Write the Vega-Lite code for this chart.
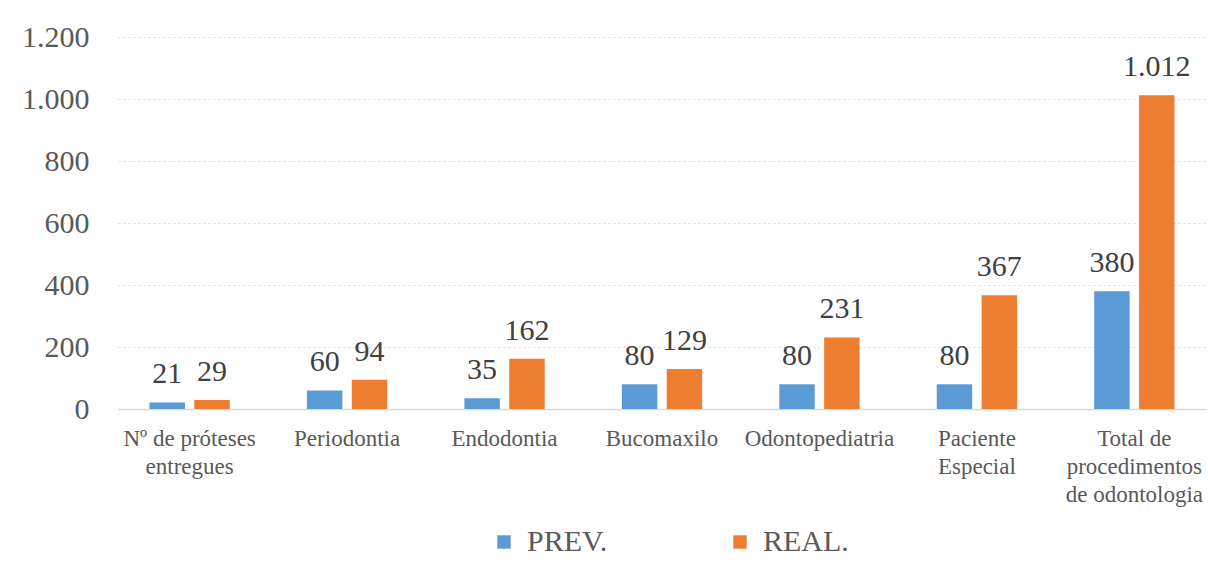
{
  "$schema": "https://vega.github.io/schema/vega-lite/v6.json",
  "width": 1088,
  "height": 372,
  "padding": {"left": 21, "top": 22, "right": 0, "bottom": 0},
  "background": "white",
  "config": {
    "locale": {"number": {"decimal": ",", "thousands": ".", "grouping": [3], "currency": ["R$", ""]}},
    "font": "Times New Roman, Liberation Serif, serif",
    "view": {"stroke": null}
  },
  "data": {
    "values": [
      {"categoria": "Nº de próteses|entregues", "serie": "PREV.", "valor": 21},
      {"categoria": "Nº de próteses|entregues", "serie": "REAL.", "valor": 29},
      {"categoria": "Periodontia", "serie": "PREV.", "valor": 60},
      {"categoria": "Periodontia", "serie": "REAL.", "valor": 94},
      {"categoria": "Endodontia", "serie": "PREV.", "valor": 35},
      {"categoria": "Endodontia", "serie": "REAL.", "valor": 162},
      {"categoria": "Bucomaxilo", "serie": "PREV.", "valor": 80},
      {"categoria": "Bucomaxilo", "serie": "REAL.", "valor": 129},
      {"categoria": "Odontopediatria", "serie": "PREV.", "valor": 80},
      {"categoria": "Odontopediatria", "serie": "REAL.", "valor": 231},
      {"categoria": "Paciente|Especial", "serie": "PREV.", "valor": 80},
      {"categoria": "Paciente|Especial", "serie": "REAL.", "valor": 367},
      {"categoria": "Total de|procedimentos|de odontologia", "serie": "PREV.", "valor": 380},
      {"categoria": "Total de|procedimentos|de odontologia", "serie": "REAL.", "valor": 1012}
    ]
  },
  "encoding": {
    "x": {
      "field": "categoria", "type": "nominal", "sort": null,
      "scale": {"paddingInner": 0.49},
      "axis": {
        "title": null, "labelAngle": 0, "ticks": false,
        "labelExpr": "split(datum.label, '|')",
        "labelFont": "Times New Roman, Liberation Serif, serif", "labelFontSize": 23, "labelColor": "#595959",
        "labelLineHeight": 28, "labelPadding": 18, "labelLimit": 300,
        "domainColor": "#d9d9d9", "domainWidth": 1.5, "grid": false
      }
    },
    "xOffset": {"field": "serie", "type": "nominal", "scale": {"paddingInner": 0.21, "paddingOuter": 0}},
    "y": {
      "field": "valor", "type": "quantitative",
      "scale": {"domain": [0, 1200], "nice": false},
      "axis": {
        "title": null, "values": [0, 200, 400, 600, 800, 1000, 1200], "format": ",d",
        "domain": false, "ticks": false,
        "labelFont": "Times New Roman, Liberation Serif, serif", "labelFontSize": 30, "labelColor": "#595959", "labelPadding": 29,
        "gridColor": "#d9d9d9", "gridDash": [2, 3], "gridWidth": 1
      }
    }
  },
  "layer": [
    {
      "mark": {"type": "bar"},
      "encoding": {
        "color": {
          "field": "serie", "type": "nominal",
          "scale": {"domain": ["PREV.", "REAL."], "range": ["#5B9BD5", "#ED7D31"]},
          "legend": {
            "title": null, "orient": "none", "legendX": 371, "legendY": 490, "direction": "horizontal",
            "symbolType": "square", "symbolSize": 180, "symbolStrokeWidth": 0,
            "labelFont": "Times New Roman, Liberation Serif, serif", "labelFontSize": 30, "labelColor": "#595959",
            "labelOffset": 8, "columnPadding": 117
          }
        }
      }
    },
    {
      "mark": {"type": "text", "baseline": "alphabetic", "dy": -19, "fontSize": 30, "font": "Times New Roman, Liberation Serif, serif", "color": "#404040"},
      "encoding": {
        "text": {"field": "valor", "type": "quantitative", "format": ",d"}
      }
    }
  ]
}
